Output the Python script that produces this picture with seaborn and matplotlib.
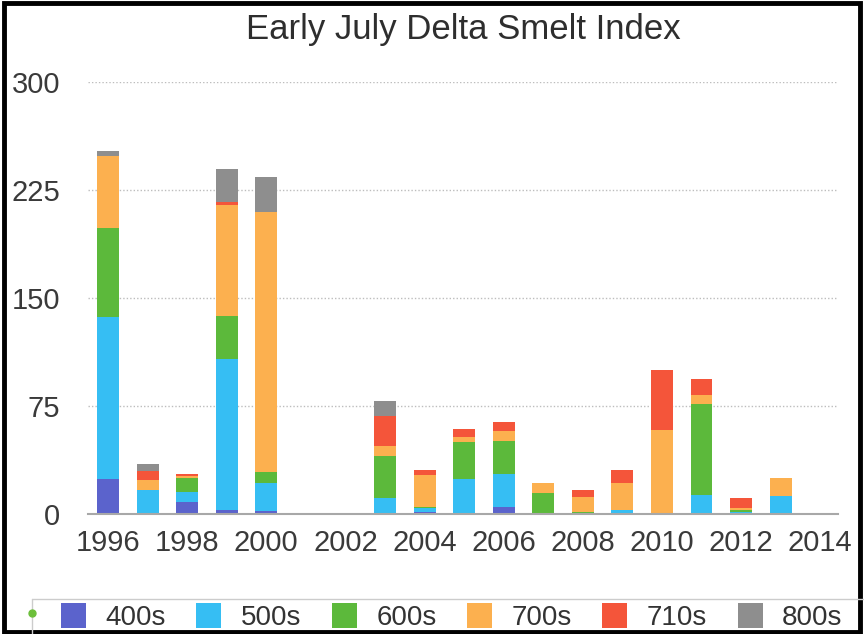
import numpy as np
import pandas as pd
import seaborn as sns
import matplotlib.pyplot as plt
from matplotlib.patches import Patch, Rectangle
from matplotlib.lines import Line2D

# index values per length class, 1996-2014
years = [str(y) for y in range(1996, 2015)]
s400 = [24.3, 0, 8.0, 2.8, 2.3, 0, 0, 0, 1.2, 0, 5.1, 0, 0, 0, 0, 0, 0, 0, 0.3]
s500 = [112.7, 16.7, 7.0, 104.5, 19.5, 0, 0, 11.4, 3.0, 24.4, 22.6, 0, 0, 2.8, 0, 13.2, 1.5, 12.5, 0]
s600 = [61.4, 0, 9.8, 30.2, 7.7, 0, 0, 29.0, 1.0, 25.6, 22.7, 14.4, 1.7, 0, 0, 63.5, 1.2, 0, 0]
s700 = [50.4, 7.0, 1.5, 77.3, 180.0, 0, 0, 6.5, 22.0, 3.4, 7.4, 7.0, 10.0, 18.6, 58.0, 6.2, 1.2, 12.8, 0]
s710 = [0, 6.3, 1.6, 1.7, 0, 0, 0, 20.9, 3.5, 5.8, 5.8, 0, 5.0, 9.3, 41.9, 11.0, 7.0, 0, 0.5]
s800 = [3.5, 4.6, 0, 23.2, 24.4, 0, 0, 10.5, 0, 0, 0, 0, 0, 0, 0, 0, 0, 0, 0]

labels = ["400s", "500s", "600s", "700s", "710s", "800s"]
colors = ["#5b63cc", "#36bef3", "#5cb93b", "#fcb04f", "#f4553a", "#8e8e8e"]

df = pd.DataFrame({"year": years, "400s": s400, "500s": s500, "600s": s600,
                   "700s": s700, "710s": s710, "800s": s800})
cum = df[labels].cumsum(axis=1)
cum["year"] = years

sns.set_style("white")
plt.rcParams['font.family'] = ['Liberation Sans', 'DejaVu Sans']

fig = plt.figure(figsize=(8.64, 6.34), dpi=100)
ax = fig.add_axes([88 / 864, 1 - 514 / 634, 750 / 864, 432 / 634])

# stacked bars: draw cumulative totals from the top layer down
for lab, col in reversed(list(zip(labels, colors))):
    sns.barplot(data=cum, x="year", y=lab, color=col, saturation=1, width=0.556,
                errorbar=None, linewidth=0, ax=ax)

ax.set_xlim(-0.506, 18.45)
ax.set_ylim(0, 300)
ax.set_xlabel("")
ax.set_ylabel("")
ax.set_yticks([0, 75, 150, 225, 300])
ax.set_xticks(range(0, 19, 2))
ax.set_xticklabels(years[::2])
ax.tick_params(axis="y", length=0, pad=20, labelsize=21, labelcolor="#3a3a3a")
ax.tick_params(axis="x", length=0, pad=11, labelsize=21, labelcolor="#3a3a3a")

ax.set_axisbelow(True)
ax.yaxis.grid(True, linestyle=(0, (1, 1.5)), color="#bdbdbd", linewidth=1)
for side in ["top", "right", "left"]:
    ax.spines[side].set_visible(False)
ax.spines["bottom"].set_color("#a8a8a8")
ax.spines["bottom"].set_linewidth(1.5)

fig.text(463 / 864, 1 - 30 / 634, "Early July Delta Smelt Index", ha="center", va="center",
         fontsize=25, color="#2e2e2e")

# legend strip at the bottom
handles = [Patch(facecolor=c, edgecolor="none", label=l) for l, c in zip(labels, colors)]
fig.legend(handles=handles, loc="upper left", bbox_to_anchor=(61 / 864, 1 - 603 / 634),
           ncol=6, frameon=False, fontsize=20, handlelength=0.9, handleheight=1.0,
           handletextpad=0.7, columnspacing=1.1, borderpad=0, borderaxespad=0,
           labelcolor="#333333")
fig.add_artist(Line2D([32 / 864, 1], [1 - 599 / 634] * 2, transform=fig.transFigure,
                      color="#cccccc", linewidth=1))
fig.add_artist(Line2D([32 / 864] * 2, [0, 1 - 599 / 634], transform=fig.transFigure,
                      color="#cccccc", linewidth=1))
fig.add_artist(Line2D([32 / 864], [1 - 613 / 634], transform=fig.transFigure,
                      marker="o", markersize=5, color="#6cbf3a", linestyle="none"))

# black frame around the picture
fig.add_artist(Rectangle((4 / 864, 2 / 634), 856 / 864, 629 / 634, transform=fig.transFigure,
                         fill=False, edgecolor="black", linewidth=3.5))

fig.savefig("out.png", dpi=100)
